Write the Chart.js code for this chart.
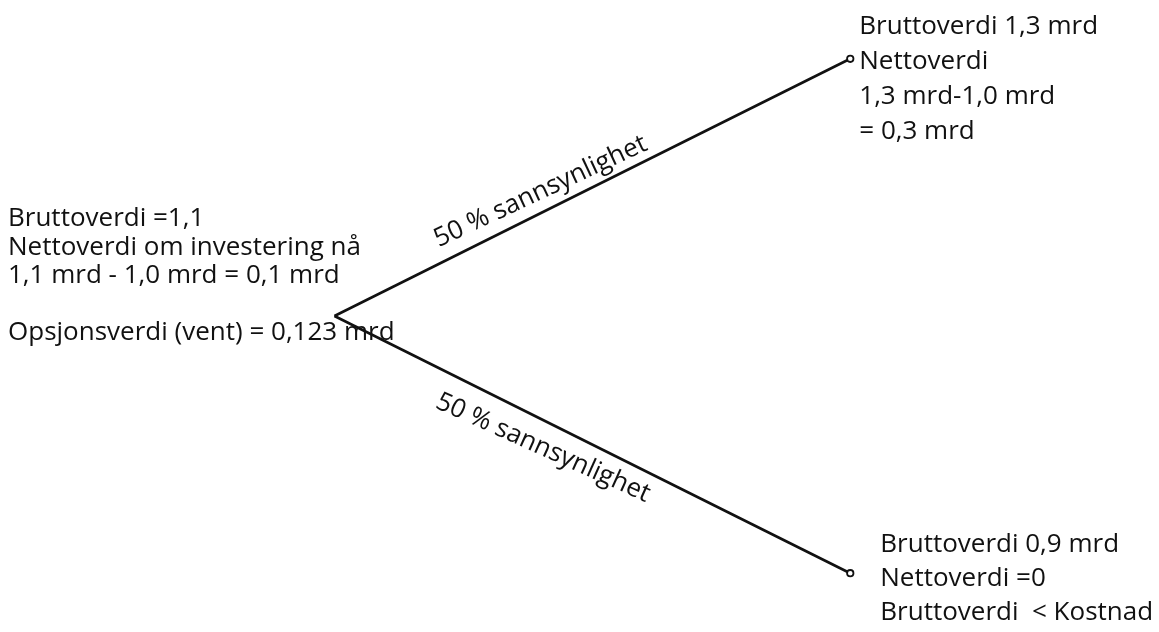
<!DOCTYPE html>
<html>
<head>
<meta charset="utf-8">
<script src="https://cdn.jsdelivr.net/npm/chart.js@4.4.1/dist/chart.umd.min.js"></script>
<style>
  body { margin: 0; background: #fff; }
  #wrap { width: 1159px; height: 632px; position: relative; }
</style>
</head>
<body>
<div id="wrap"><canvas id="treChart"></canvas></div>
<script>
// Data for beslutningstreet (verdier i mrd)
const tidspunkt = [0, 1];
const bruttoOpp = [1.1, 1.3];
const bruttoNed = [1.1, 0.9];

const tekstStart = ['Bruttoverdi =1,1', 'Nettoverdi om investering nå', '1,1 mrd - 1,0 mrd = 0,1 mrd'];
const tekstOpsjon = ['Opsjonsverdi (vent) = 0,123 mrd'];
const tekstOpp = ['Bruttoverdi 1,3 mrd', 'Nettoverdi', '1,3 mrd-1,0 mrd', '= 0,3 mrd'];
const tekstNed = ['Bruttoverdi 0,9 mrd', 'Nettoverdi =0', 'Bruttoverdi  < Kostnad'];
const tekstGrener = ['50 % sannsynlighet', '50 % sannsynlighet'];

const FONT = '26px "Open Sans"';
const FARGE = '#111111';

function tilPunkter(ys) {
  return tidspunkt.map((t, i) => ({ x: t, y: ys[i] }));
}

// Tegn tekstlinjer
function tegnLinjer(ctx, linjer, x, y0, avstand) {
  linjer.forEach((l, i) => ctx.fillText(l, x, y0 + i * avstand));
}

// Tekst langs en gren
function tegnLangs(ctx, p0, p1, tekst, langs, vinkelrett, justering) {
  const dx = p1.x - p0.x, dy = p1.y - p0.y;
  const len = Math.hypot(dx, dy);
  const ux = dx / len, uy = dy / len;
  // normal som peker "opp/venstre" relativt til retningen
  const nx = uy, ny = -ux;
  const ax = p0.x + ux * langs + nx * vinkelrett;
  const ay = p0.y + uy * langs + ny * vinkelrett;
  ctx.save();
  ctx.translate(ax, ay);
  ctx.rotate(Math.atan2(dy, dx) + justering);
  ctx.fillText(tekst, 0, 0);
  ctx.restore();
}

const tekstPlugin = {
  id: 'tekstPlugin',
  afterDatasetsDraw(chart) {
    const ctx = chart.ctx;
    const xs = chart.scales.x, ys = chart.scales.y;
    const start = { x: xs.getPixelForValue(tidspunkt[0]), y: ys.getPixelForValue(bruttoOpp[0]) };
    const opp = { x: xs.getPixelForValue(tidspunkt[1]), y: ys.getPixelForValue(bruttoOpp[1]) };
    const ned = { x: xs.getPixelForValue(tidspunkt[1]), y: ys.getPixelForValue(bruttoNed[1]) };

    ctx.save();
    ctx.font = FONT;
    ctx.fillStyle = FARGE;
    ctx.textAlign = 'left';
    ctx.textBaseline = 'alphabetic';

    tegnLinjer(ctx, tekstStart, 8, start.y - 90, 28.5);
    tegnLinjer(ctx, tekstOpsjon, 8, start.y + 24, 0);
    tegnLinjer(ctx, tekstOpp, opp.x + 9, opp.y - 25, 35);
    tegnLinjer(ctx, tekstNed, ned.x + 30, ned.y - 21, 34);

    const grad = Math.PI / 180;
    tegnLangs(ctx, start, opp, tekstGrener[0], 124, 15, 1.5 * grad);
    tegnLangs(ctx, start, ned, tekstGrener[1], 130, -37, -2.3 * grad);
    ctx.restore();
  }
};

const ctx = document.getElementById('treChart').getContext('2d');
new Chart(ctx, {
  type: 'scatter',
  data: {
    datasets: [
      {
        label: 'Opp',
        data: tilPunkter(bruttoOpp),
        showLine: true,
        borderColor: FARGE,
        borderWidth: 2.6,
        pointRadius: [0, 3.2],
        pointBorderWidth: 1.8,
        pointBorderColor: FARGE,
        pointBackgroundColor: '#fff'
      },
      {
        label: 'Ned',
        data: tilPunkter(bruttoNed),
        showLine: true,
        borderColor: FARGE,
        borderWidth: 2.6,
        pointRadius: [0, 3.2],
        pointBorderWidth: 1.8,
        pointBorderColor: FARGE,
        pointBackgroundColor: '#fff'
      }
    ]
  },
  options: {
    responsive: true,
    maintainAspectRatio: false,
    animation: false,
    layout: { padding: 0 },
    plugins: {
      legend: { display: false },
      tooltip: { enabled: false }
    },
    scales: {
      x: { type: 'linear', display: false, min: -0.6372, max: 1.5873 },
      y: { type: 'linear', display: false, min: 0.8588, max: 1.3412 }
    }
  },
  plugins: [tekstPlugin]
});
</script>
</body>
</html>
